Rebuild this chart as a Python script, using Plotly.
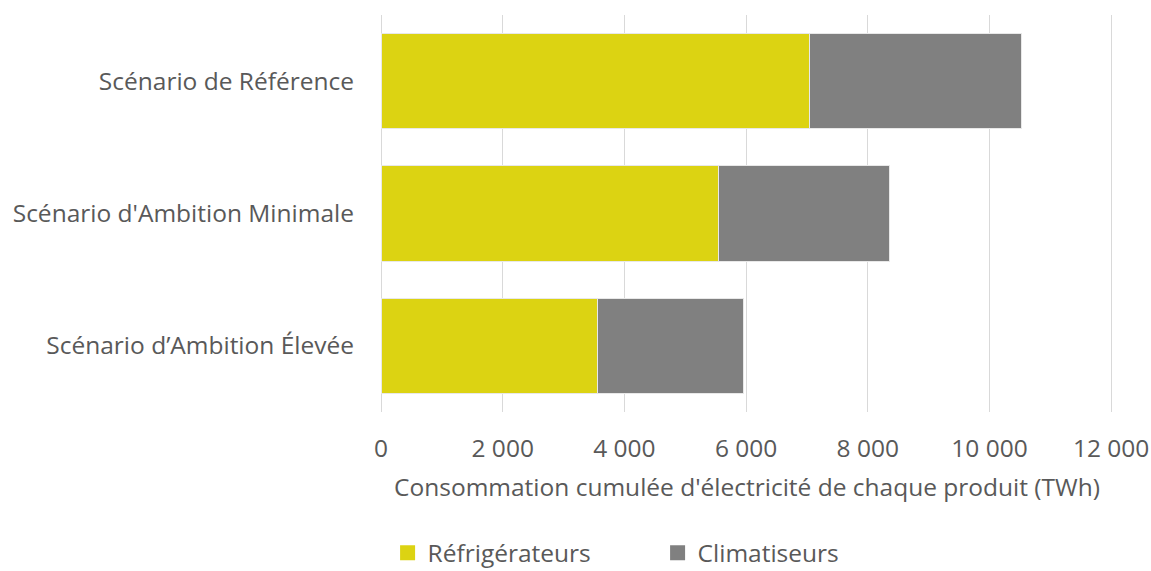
import plotly.graph_objects as go

categories = ["Scénario de Référence", "Scénario d'Ambition Minimale", "Scénario d’Ambition Élevée"]
refrigerateurs = [7050, 5550, 3555]
climatiseurs = [3480, 2815, 2410]
series_names = ["Réfrigérateurs", "Climatiseurs"]
series_colors = ["#DCD312", "#808080"]
x_ticks = [0, 2000, 4000, 6000, 8000, 10000, 12000]
x_tick_labels = ["0", "2 000", "4 000", "6 000", "8 000", "10 000", "12 000"]
x_title = "Consommation cumulée d'électricité de chaque produit (TWh)"

FONT = "Open Sans"
TXT = "#595959"
FS = 24.5

fig = go.Figure()
for vals, name, col in zip([refrigerateurs, climatiseurs], series_names, series_colors):
    fig.add_trace(go.Bar(y=categories, x=vals, name=name, orientation="h", showlegend=False,
                         legendgroup=name,
                         marker=dict(color=col, line=dict(color="#E8E8E8", width=1))))
# legend entries with larger square swatches
for name, col in zip(series_names, series_colors):
    fig.add_trace(go.Scatter(x=[None], y=[None], mode="markers", name=name, legendgroup=name,
                             marker=dict(symbol="square", size=15, color=col)))

fig.update_layout(
    width=1151, height=571,
    barmode="stack", bargap=0.28,
    plot_bgcolor="white", paper_bgcolor="white",
    margin=dict(l=381, r=38, t=15, b=159, autoexpand=False),
    font=dict(family=FONT, color=TXT, size=FS),
    showlegend=True,
    legend=dict(orientation="h", x=0.009, xanchor="left", y=-0.355, yanchor="middle",
                font=dict(size=FS, color=TXT), entrywidth=225, traceorder="normal"),
    hovermode=False,
)
fig.update_xaxes(range=[0, 12030], tickvals=x_ticks, ticktext=x_tick_labels,
                 showgrid=True, gridcolor="#D9D9D9", gridwidth=1.3,
                 zeroline=True, zerolinecolor="#D9D9D9", zerolinewidth=1.3,
                 showline=False, ticks="", ticklabelstandoff=19, automargin=False,
                 tickfont=dict(size=FS, color=TXT),
                 title=dict(text=x_title, font=dict(size=FS, color=TXT), standoff=16))
fig.update_yaxes(type="category", categoryorder="array", categoryarray=categories[::-1],
                 showgrid=False, showline=False, ticks="", ticklabelstandoff=26,
                 automargin=False, tickfont=dict(size=FS, color=TXT))

fig.write_html(
    "out.html",
    config={"displayModeBar": False},
    post_script="document.body.style.margin='0';document.body.style.padding='0';"
                "document.body.style.overflow='hidden';",
)
